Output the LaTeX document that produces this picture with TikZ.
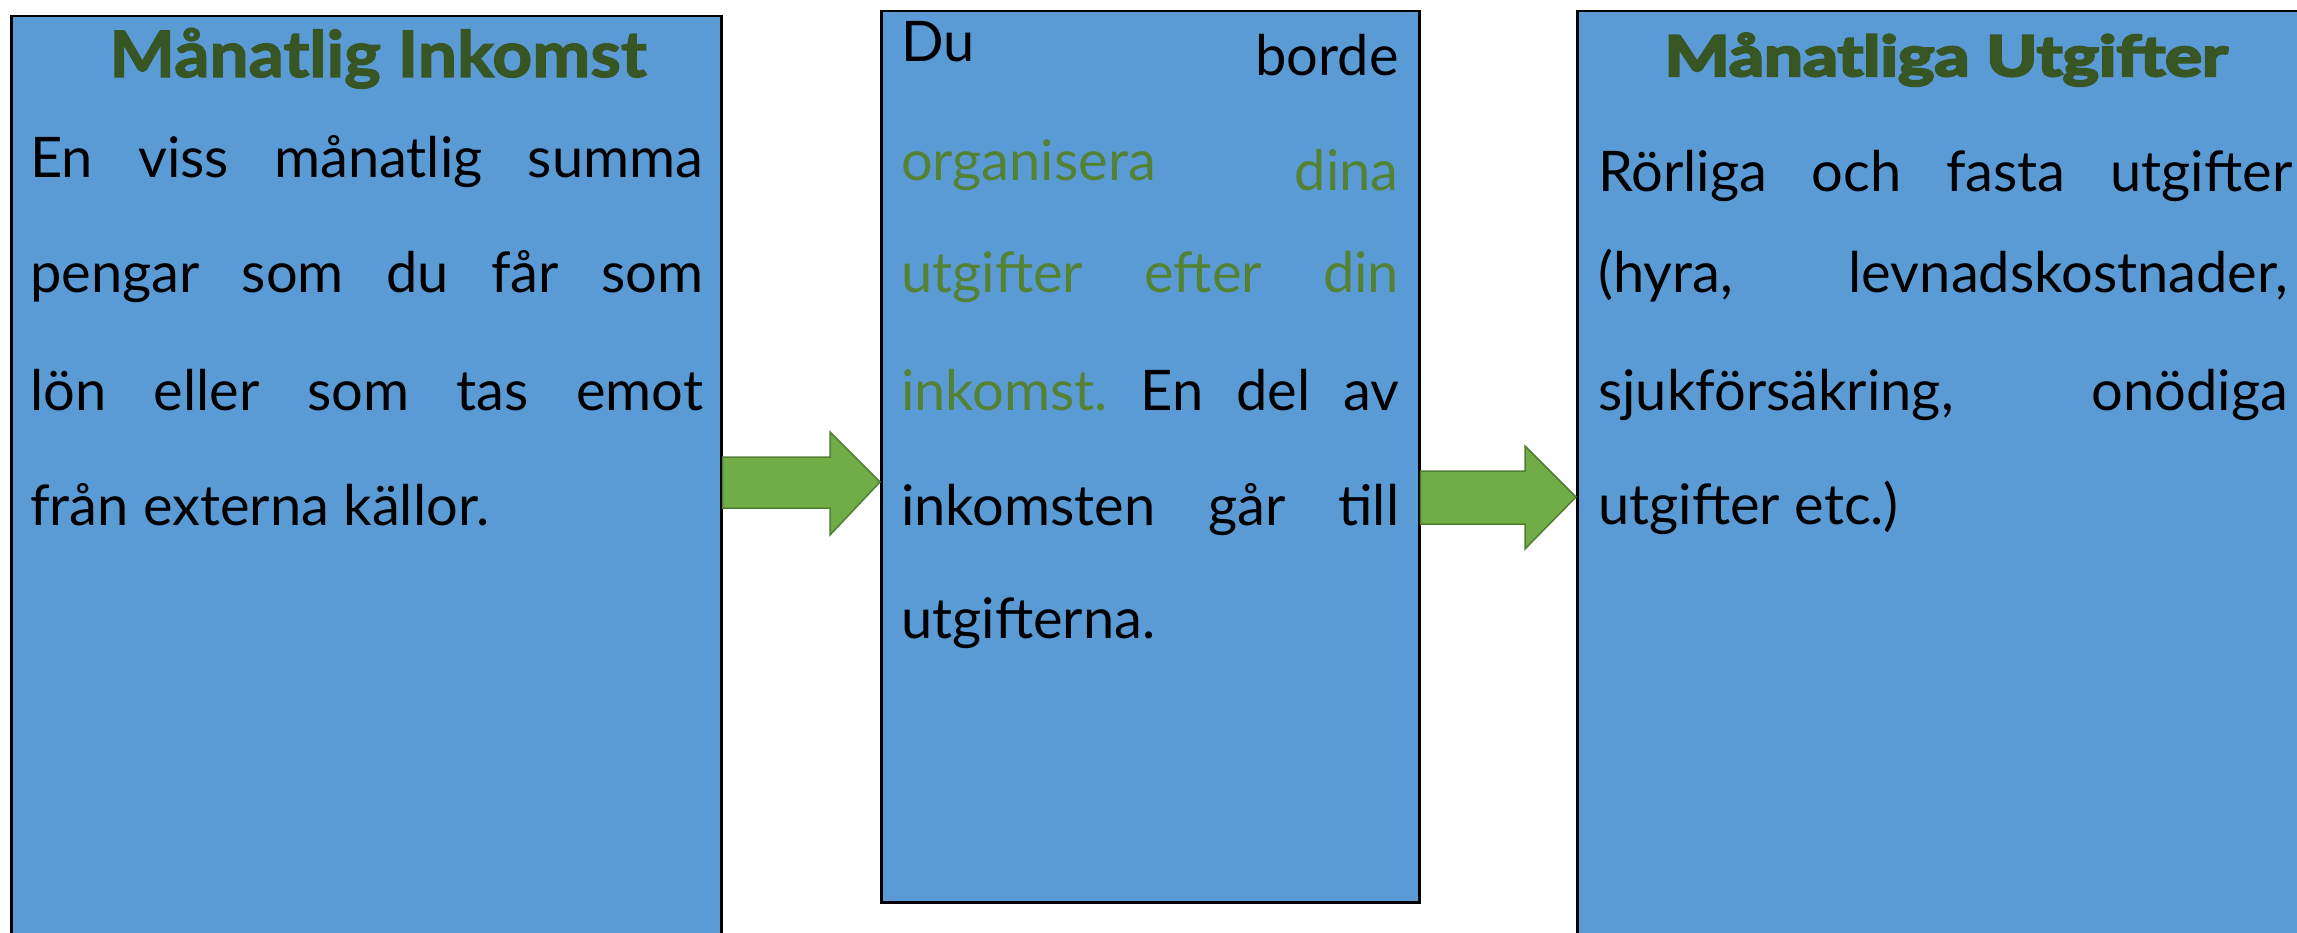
\documentclass[tikz,border=0pt]{standalone}
\usepackage{fontspec}
\setmainfont{Lato}
\newfontfamily\heavyfont{Lato}[BoldFeatures={FakeBold=4}]
\newfontfamily\semiheavyfont{Lato}[BoldFeatures={FakeBold=2}]
\usetikzlibrary{calc}
\definecolor{boxblue}{HTML}{5B9BD5}
\definecolor{titlegreen}{HTML}{375623}
\definecolor{textgreen}{HTML}{548235}
\definecolor{arrowgreen}{HTML}{70AD47}
\definecolor{arrowedge}{HTML}{507E32}
\tikzset{
  panel/.style={draw=black, line width=2.5pt, fill=boxblue, anchor=north west, inner sep=0pt},
  txt/.style={anchor=base west, inner sep=0pt, font=\fontsize{56}{60}\selectfont},
  txtr/.style={anchor=base east, inner sep=0pt, font=\fontsize{56}{60}\selectfont},
  ttl/.style={anchor=base, inner sep=0pt, text=titlegreen},
  blockarrow/.style={fill=arrowgreen, draw=arrowedge, line width=1.5pt, line join=miter},
}
\newcommand{\jl}[2]{\makebox[#1][s]{#2}}
\begin{document}
\begin{tikzpicture}[x=1pt,y=-1pt]
\useasboundingbox (0,0) rectangle (2297,933);
\clip (0,0) rectangle (2297,933);
% panels
\node[panel, minimum width=710pt, minimum height=940pt] (inc) at (10,15) {};
\node[panel, minimum width=538pt, minimum height=891pt] (mid) at (880,10) {};
\node[panel, minimum width=740pt, minimum height=940pt] (exp) at (1576,10) {};
% titles
\node[ttl, font=\semiheavyfont\bfseries\fontsize{64}{68}\selectfont] (t1) at (378,77) {\resizebox{537pt}{\height}{Månatlig Inkomst}};
\node[ttl, font=\heavyfont\bfseries\fontsize{56}{60}\selectfont] (t3) at (1946,76) {\resizebox{563pt}{\height}{Månatliga Utgifter}};
% left text
\node[txt] (l1) at (30,178) {\jl{673pt}{En\hfill viss\hfill månatlig\hfill summa}};
\node[txt] (l2) at (30,293) {\jl{673pt}{pengar\hfill som\hfill du\hfill får\hfill som}};
\node[txt] (l3) at (30,410) {\jl{673pt}{lön\hfill eller\hfill som\hfill tas\hfill emot}};
\node[txt] (l4) at (30,525) {från externa källor.};
% middle text
\node[txt] (m1a) at (901,62) {Du};
\node[txtr] (m1b) at (1399,76) {borde};
\node[txt, text=textgreen] (m2a) at (901,181) {organisera};
\node[txtr, text=textgreen] (m2b) at (1399,191) {dina};
\node[txt] (m3) at (901,293) {\jl{498pt}{\textcolor{textgreen}{utgifter}\hfill\textcolor{textgreen}{efter}\hfill\textcolor{textgreen}{din}}};
\node[txt] (m4) at (901,410) {\jl{498pt}{\textcolor{textgreen}{inkomst.}\hfill En\hfill del\hfill av}};
\node[txt] (m5) at (901,525) {\jl{498pt}{inkomsten\hfill går\hfill till}};
\node[txt] (m6) at (901,638) {utgifterna.};
% right text
\node[txt] (r1) at (1598,192) {\jl{694pt}{Rörliga\hfill och\hfill fasta\hfill utgifter}};
\node[txt] (r2) at (1598,293) {\jl{690pt}{(hyra,\hfill levnadskostnader,}};
\node[txt] (r3) at (1598,410) {\jl{690pt}{sjukförsäkring,\hfill onödiga}};
\node[txt] (r4) at (1598,524) {utgifter etc.)};
% block arrows
\draw[blockarrow] (inc.north east |- 0,457) -- (830,457) -- (830,432) -- (mid.north west |- 0,482)
  -- (830,535) -- (830,508) -- (inc.north east |- 0,508) -- cycle;
\draw[blockarrow] (mid.north east |- 0,471) -- (1525,471) -- (1525,446) -- (exp.north west |- 0,497)
  -- (1525,549) -- (1525,524) -- (mid.north east |- 0,524) -- cycle;
\end{tikzpicture}
\end{document}
